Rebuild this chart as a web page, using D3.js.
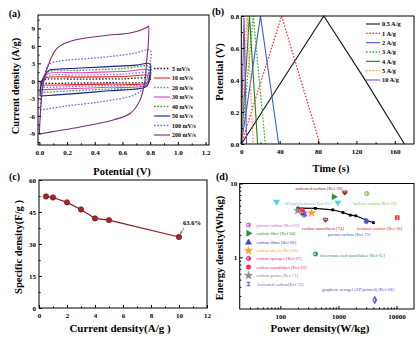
<!DOCTYPE html>
<html><head><meta charset="utf-8">
<script src="https://cdn.jsdelivr.net/npm/d3@7"></script>
<style>
body{margin:0;background:#fff}
</style></head><body>
<svg width="418" height="341"></svg>
<script>
var font = '"Liberation Serif","Times New Roman",serif';

// (a) CV curves, [potential V, current A/g]
var cvRates = ["5 mV/s","10 mV/s","20 mV/s","30 mV/s","40 mV/s","50 mV/s","100 mV/s","200 mV/s"];
var cv5 = [[0.005,-0.45],[0.015,0.0],[0.04,0.25],[0.3,0.3],[0.6,0.35],[0.8,0.4],[0.795,0.0],[0.77,-0.25],[0.5,-0.32],[0.2,-0.4],[0.005,-0.45]];
var cv10 = [[0.005,-0.75],[0.015,0.0],[0.05,0.55],[0.3,0.65],[0.6,0.75],[0.8,0.85],[0.795,0.2],[0.77,-0.4],[0.5,-0.55],[0.2,-0.68],[0.005,-0.75]];
var cv20 = [[0.005,-1.15],[0.02,0.0],[0.06,0.85],[0.3,1.0],[0.6,1.15],[0.8,1.3],[0.795,0.3],[0.76,-0.55],[0.5,-0.8],[0.2,-1.0],[0.005,-1.15]];
var cv30 = [[0.005,-1.55],[0.02,0.0],[0.06,1.2],[0.3,1.4],[0.6,1.6],[0.8,1.75],[0.795,0.4],[0.76,-0.8],[0.5,-1.1],[0.2,-1.35],[0.005,-1.55]];
var cv40 = [[0.005,-2.0],[0.02,-0.2],[0.06,1.5],[0.3,1.8],[0.6,2.1],[0.8,2.4],[0.795,0.5],[0.75,-1.05],[0.5,-1.4],[0.2,-1.75],[0.005,-2.0]];
var cv50 = [[0.005,-2.6],[0.01,-1.0],[0.03,0.6],[0.07,1.8],[0.1,1.95],[0.3,2.2],[0.5,2.45],[0.7,2.7],[0.8,2.95],[0.8,1.5],[0.78,-0.8],[0.74,-1.25],[0.5,-1.7],[0.3,-2.1],[0.1,-2.45],[0.005,-2.6]];
var cv100 = [[0.005,-5.0],[0.02,-1.5],[0.035,0.5],[0.055,2.4],[0.08,3.0],[0.2,3.55],[0.44,4.0],[0.68,4.7],[0.8,5.25],[0.795,2.5],[0.787,1.3],[0.75,-1.3],[0.68,-2.45],[0.44,-3.6],[0.2,-4.3],[0.005,-5.0]];
var cv200 = [[0.0,-9.1],[0.01,-4.5],[0.03,-0.2],[0.077,3.5],[0.125,5.55],[0.2,6.6],[0.27,7.1],[0.49,7.83],[0.655,8.2],[0.775,9.15],[0.787,9.4],[0.787,6.5],[0.775,3.5],[0.763,0.1],[0.727,-3.3],[0.655,-5.6],[0.534,-6.7],[0.294,-7.9],[0.125,-8.6],[0.0,-9.1]];
var cvCurves = [cv5,cv10,cv20,cv30,cv40,cv50,cv100,cv200];
var cvColors = ["#222","#ee2020","#6f7fe0","#e040c0","#3a9a3a","#1c1c8c","#6a6ad0","#7a2a7a"];
var cvDotted = [1,0,1,0,1,0,1,0];

// (b) charge-discharge, [time s, potential V]
var gcdRates = ["0.5 A/g","1 A/g","2 A/g","3 A/g","4 A/g","5 A/g","10 A/g"];
var gcd05 = [[0,0],[86,0.8],[128,0.41],[170,0]];
var gcd1 = [[0,0],[42,0.8],[82,0]];
var gcd2 = [[0,0],[20,0.8],[39,0]];
var gcd3 = [[0,0],[12.5,0.8],[25,0]];
var gcd4 = [[0,0],[8.5,0.8],[17,0]];
var gcd5 = [[0,0],[6,0.8],[12.5,0]];
var gcd10 = [[0,0],[2.8,0.79],[5.5,0]];
var gcdCurves = [gcd05,gcd1,gcd2,gcd3,gcd4,gcd5,gcd10];
var gcdColors = ["#111","#f03a3a","#3a5ccc","#3aaa3a","#1a801a","#ff9a3a","#7a4ad0"];
var gcdDotted = [0,1,0,1,0,1,0];

// (c) rate capability
var rateCurrent = [0.5,1,2,3,4,5,10];
var rateCap = [52.3,51.8,49.5,46.2,42.0,41.2,33.3];

// (d) Ragone plot
var thisPower = [200,400,800,1200,1600,2000,3000,4000];
var thisEnergy = [4.64,4.6,4.4,4.05,3.73,3.65,3.2,2.95];
var refNames = ["activated carbon [Ref 70]","hollow carbon [Ref 59]","3D polyhedrons [Ref 61]","3D polyhedrons [Ref 61]",
  "carbon fiber [Ref 64]","carbon nanofibers [74]","porous carbon [Ref 72]","biomass carbon [Ref 58]",
  "interconnected nanoflakes [Ref 65]","graphene aerogel (3D printed) [Ref 68]","porous carbon [Ref 62]",
  "carbon films [Ref 60]","carbon sheets [Ref 66]","carbon sponges [Ref 67]","carbon nanoflakes [Ref 63]",
  "carbon grains [Ref 71]","Activated carbon[Ref 73]"];
var refPower = [1290,3080,86,980,835,600,3030,10300,403,4230,258,250,345,245,235,200,265];
var refEnergy = [7.5,7.3,5.65,5.5,6.6,3.2,3.07,3.45,1.11,0.265,3.72,3.95,4.0,4.15,4.4,4.3,3.85];
var refColors = ["#8b1a1a","#8dc63f","#5cc8e6","#5cc8e6","#1f8f2f","#9b3030","#3b5bcc","#ee2b2b","#1f8f80","#5a4fcf",
  "#c864c8","#3b44b8","#ff9a2e","#ee1b7a","#ff2a45","#888888","#8a5ad0"];
var refShapes = ["shield","half","down","down","right","shield","circle","square","half","diamond","half","triangle","star","half","circle","star","bowtie"];
// label placement: [x, y, anchor]; legend rows are placed separately
var refLabelPos = [[319,190,"middle"],[375,204.5,"middle"],[284.5,205,"start"],null,null,[323,229.5,"middle"],[349,236,"middle"],
  [379.5,229.5,"middle"],[320,257,"start"],[357.7,290.5,"middle"]];
var legendOrder = [10,4,11,12,13,14,15,16];

var svg = d3.select("svg");

function styleAxis(g, size) {
  g.select(".domain").remove();
  g.selectAll("line").attr("stroke","#000");
  g.selectAll("text").attr("font-family",font).attr("font-weight","bold").attr("font-size",size||7).attr("fill","#000");
}

function drawAxes(x, y, o) {
  var r = x.range(), ry = y.range();
  var gx = svg.append("g").attr("transform","translate(0,"+ry[0]+")");
  gx.call(d3.axisBottom(x).tickValues(o.xt).tickSize(-3).tickPadding(5).tickFormat(o.xf)).call(styleAxis);
  svg.append("g").attr("transform","translate(0,"+ry[0]+")")
    .call(d3.axisBottom(x).tickValues(o.xm).tickSize(-1.6).tickFormat("")).call(styleAxis);
  var gy = svg.append("g").attr("transform","translate("+r[0]+",0)");
  gy.call(d3.axisLeft(y).tickValues(o.yt).tickSize(-3).tickPadding(o.yp||3).tickFormat(o.yf)).call(styleAxis);
  svg.append("g").attr("transform","translate("+r[0]+",0)")
    .call(d3.axisLeft(y).tickValues(o.ym).tickSize(-1.6).tickFormat("")).call(styleAxis);
  svg.append("rect").attr("x",r[0]).attr("y",ry[1]).attr("width",r[1]-r[0]).attr("height",ry[0]-ry[1])
    .attr("fill","none").attr("stroke","#000").attr("stroke-width",1);
}

function label(x, y, txt, size, rot) {
  var t = svg.append("text").attr("font-family",font).attr("font-weight","bold").attr("font-size",size)
    .attr("text-anchor","middle").text(txt);
  if (rot) t.attr("transform","translate("+x+","+y+") rotate(-90)");
  else t.attr("x",x).attr("y",y);
  return t;
}

// ---------- (a) ----------
var xa = d3.scaleLinear().domain([-0.01,1.225]).range([38,209]);
var ya = d3.scaleLinear().domain([-11,11.3]).range([145,15]);
var cvLine = d3.line().x(function(d){return xa(d[0]);}).y(function(d){return ya(d[1]);}).curve(d3.curveCatmullRom.alpha(0.5));
cvCurves.forEach(function(c,i){
  svg.append("path").attr("d",cvLine(c)).attr("fill","none").attr("stroke",cvColors[i])
    .attr("stroke-width",cvDotted[i]?1.3:1.1).attr("stroke-dasharray",cvDotted[i]?"1.6,1.6":null);
});
drawAxes(xa, ya, {xt:d3.range(0,1.21,0.2), xm:d3.range(0.1,1.2,0.2), xf:d3.format(".1f"),
  yt:[-9,-6,-3,0,3,6,9], ym:[-10.5,-7.5,-4.5,-1.5,1.5,4.5,7.5,10.5], yf:function(d){return d;}});
cvRates.forEach(function(r,i){
  var yy = 68.5 + i*9.5;
  svg.append("line").attr("x1",154).attr("x2",170).attr("y1",yy).attr("y2",yy).attr("stroke",cvColors[i])
    .attr("stroke-width",cvDotted[i]?1.3:1.1).attr("stroke-dasharray",cvDotted[i]?"1.6,1.6":null);
  svg.append("text").attr("x",172).attr("y",yy+2).attr("font-family",font).attr("font-weight","bold")
    .attr("font-size",6).text(r);
});
label(19,86,"Current  density (A/g)",10.5,true);
label(122,175,"Potential (V)",10.5);
label(14.5,17,"(a)",10);

// ---------- (b) ----------
var xb = d3.scaleLinear().domain([0,180]).range([241.3,414]);
var yb = d3.scaleLinear().domain([0,0.8]).range([144,16]);
var gcdLine = d3.line().x(function(d){return xb(d[0]);}).y(function(d){return yb(d[1]);});
gcdCurves.forEach(function(c,i){
  svg.append("path").attr("d",gcdLine(c)).attr("fill","none").attr("stroke",gcdColors[i])
    .attr("stroke-width",gcdDotted[i]?1.3:1.1).attr("stroke-dasharray",gcdDotted[i]?"1.6,1.6":null);
});
drawAxes(xb, yb, {xt:[0,40,80,120,160], xm:[20,60,100,140], xf:function(d){return d;},
  yt:[0,0.2,0.4,0.6,0.8], ym:[0.1,0.3,0.5,0.7], yf:d3.format(".1f"), yp:2});
gcdRates.forEach(function(r,i){
  var yy = 24 + i*9.33;
  svg.append("line").attr("x1",366).attr("x2",380).attr("y1",yy).attr("y2",yy).attr("stroke",gcdColors[i])
    .attr("stroke-width",gcdDotted[i]?1.3:1.1).attr("stroke-dasharray",gcdDotted[i]?"1.6,1.6":null);
  svg.append("text").attr("x",382).attr("y",yy+2.2).attr("font-family",font).attr("font-weight","bold")
    .attr("font-size",6.3).text(r);
});
label(223,72,"Potential (V)",10.5,true);
label(331,171.5,"Time (s)",10.5);
label(218,15,"(b)",10);

// ---------- (c) ----------
var xc = d3.scaleLinear().domain([0,12]).range([39,207]);
var yc = d3.scaleLinear().domain([0,60]).range([308,180]);
drawAxes(xc, yc, {xt:d3.range(0,13,2), xm:d3.range(1,12,2), xf:function(d){return d;},
  yt:[0,15,30,45,60], ym:[7.5,22.5,37.5,52.5], yf:function(d){return d;}});
var rateLine = d3.line().x(function(d,i){return xc(rateCurrent[i]);}).y(function(d){return yc(d);});
svg.append("path").attr("d",rateLine(rateCap)).attr("fill","none").attr("stroke","#8b1a1a").attr("stroke-width",1.2);
svg.selectAll(".rc").data(rateCap).enter().append("circle")
  .attr("cx",function(d,i){return xc(rateCurrent[i]);}).attr("cy",function(d){return yc(d);})
  .attr("r",2.7).attr("fill","#a8262a").attr("stroke","#5a0f0f").attr("stroke-width",0.6);
var last = rateCap.length-1;
svg.append("line").attr("x1",xc(rateCurrent[last])+5).attr("y1",yc(rateCap[last])-9)
  .attr("x2",xc(rateCurrent[last])+1.5).attr("y2",yc(rateCap[last])-3.5).attr("stroke","#555").attr("stroke-width",0.7);
svg.append("path").attr("d","M"+(xc(rateCurrent[last])+1.2)+","+(yc(rateCap[last])-3)+"l0.3,-2.6l1.8,1.3z").attr("fill","#555");
svg.append("text").attr("x",xc(rateCurrent[last])+4).attr("y",yc(rateCap[last])-12).attr("font-family",font)
  .attr("font-weight","bold").attr("font-size",6.5).text("63.6%");
label(22,247,"Specific density(F/g )",10.5,true);
label(120,332,"Current density(A/g )",11);
label(14.5,180,"(c)",10);

// ---------- (d) ----------
var xd = d3.scaleLog().domain([20,20000]).range([239.7,414]);
var yd = d3.scaleLog().domain([0.2,10]).range([309,183.5]);
var xMinor = [30,40,50,60,70,80,90,200,300,400,500,600,700,800,900,2000,3000,4000,5000,6000,7000,8000,9000];
var yMinor = [0.3,0.4,0.5,0.6,0.7,0.8,0.9,2,3,4,5,6,7,8,9];
drawAxes(xd, yd, {xt:[100,1000,10000], xm:xMinor, xf:function(d){return d;},
  yt:[1,10], ym:yMinor, yf:function(d){return d;}, yp:2.5});

function markerPath(t) {
  if (t=="circle"||t=="half") return d3.symbol(d3.symbolCircle,17)();
  if (t=="triangle"||t=="down"||t=="right") return d3.symbol(d3.symbolTriangle,17)();
  if (t=="star") return d3.symbol(d3.symbolStar,22)();
  if (t=="square") return d3.symbol(d3.symbolSquare,17)();
  if (t=="diamond") return d3.symbol(d3.symbolDiamond,18)();
  if (t=="bowtie") return "M-2,-2L2,-2L-2,2L2,2Z";
  return "M-2.3,-2L2.3,-2L2.3,0.2L0,2.5L-2.3,0.2Z";
}
function marker(x, y, i) {
  var t = refShapes[i], rot = t=="down"?180:(t=="right"?90:0);
  var g = svg.append("g").attr("transform","translate("+x+","+y+") rotate("+rot+")");
  g.append("path").attr("d",markerPath(t)).attr("fill",refColors[i]).attr("stroke",refColors[i]).attr("stroke-width",0.4);
  if (t=="half"||t=="diamond") g.append("path").attr("d","M0,-1.3A1.3,1.3 0 0 0 0,1.3Z").attr("fill","#fff");
  if (t=="square") g.append("rect").attr("x",-0.4).attr("y",-1.6).attr("width",0.8).attr("height",3.2).attr("fill","#fff");
  if (t=="shield") g.append("rect").attr("x",-1.5).attr("y",-1.2).attr("width",3).attr("height",0.8).attr("fill","#fff");
}

var ragone = d3.line().x(function(d,i){return xd(thisPower[i]);}).y(function(d){return yd(d);});
svg.append("path").attr("d",ragone(thisEnergy)).attr("fill","none").attr("stroke","#000").attr("stroke-width",1.1);
svg.selectAll(".rg").data(thisEnergy).enter().append("rect")
  .attr("x",function(d,i){return xd(thisPower[i])-1.4;}).attr("y",function(d){return yd(d)-1.4;})
  .attr("width",2.8).attr("height",2.8).attr("fill","#000");

refPower.forEach(function(p,i){ marker(xd(p), yd(refEnergy[i]), i); });
refLabelPos.forEach(function(lp,i){
  if (!lp) return;
  svg.append("text").attr("x",lp[0]).attr("y",lp[1]).attr("text-anchor",lp[2]).attr("font-family",font)
    .attr("font-size",4.6).attr("fill",refColors[i]).text(refNames[i]);
});
var legRows = [225,233.3,242.5,250.5,258.5,267,275.5,284];
legendOrder.forEach(function(k,j){
  marker(248.5, legRows[j], k);
  svg.append("text").attr("x",256.5).attr("y",legRows[j]+1.6).attr("font-family",font)
    .attr("font-size",4.6).attr("fill",refColors[k]).text(refNames[k]);
});
label(223,248,"Energy density(Wh/kg)",10.5,true);
label(320,332,"Power density(W/kg)",11);
label(222,180,"(d)",10);
</script></body></html>
